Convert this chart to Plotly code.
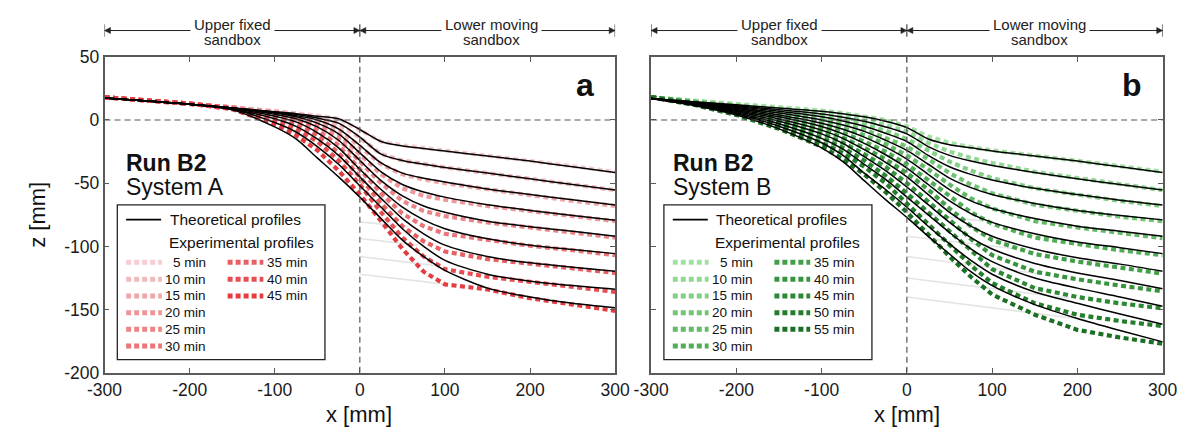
import plotly.graph_objects as go

# ---------------- data ----------------
X_GRID = [-300, -250, -200, -150, -100, -75, -50, -25, 0, 25, 50, 75, 100, 150, 200, 250, 300]

A_TIMES = [5, 10, 15, 20, 25, 30, 35, 40, 45]
A_THEO = [
    [17.5, 15, 12.5, 9.5, 6.5, 5, 3, 1, -7.5, -17, -20.5, -22.5, -24.5, -28.5, -32.5, -37, -41.5],
    [17.5, 15, 12.5, 9.5, 6.3, 4.5, 1.5, -2.5, -13.5, -27, -32, -35, -37.5, -42, -46.5, -51, -55.4],
    [17.5, 15, 12.5, 9.5, 6, 3.5, 0, -7, -20, -34, -42, -46, -49, -54.5, -59, -63, -67.2],
    [17.5, 15, 12.5, 9.5, 5.5, 2.5, -2.5, -11, -26, -41, -51, -57, -61, -67, -71.5, -75.5, -79.3],
    [17.5, 15, 12.5, 9.5, 4.5, 1, -5.5, -16, -32, -48, -60, -68, -73, -80, -84.5, -88, -91.9],
    [17.5, 15, 12.5, 9, 3, -1.5, -10, -22, -39, -55, -69, -79, -86, -94, -99, -102.5, -105.7],
    [17.5, 15, 12.5, 8.5, 1, -5, -15, -28, -45, -62, -78, -90, -99, -108, -113, -116.5, -119.6],
    [17.5, 15, 12.5, 8.5, -2, -9.5, -21, -35, -52, -69, -86, -100, -111, -122, -127.5, -131, -133.9],
    [17.5, 15, 12.5, 8, -5.5, -15, -30, -45, -61, -78, -95, -108, -119, -133, -140, -145, -148.6],
]
A_EXP = [
    [18, 15.5, 13, 10, 7, 5.5, 3.5, 1, -8, -17, -20, -22, -24, -28, -32, -36.5, -41],
    [18, 15.5, 13, 10, 7, 5, 2, -3, -14, -27, -32, -35, -37.5, -42, -46.5, -51, -55.5],
    [18, 15.5, 13, 10, 6.5, 4, 0.5, -7, -21, -35, -43, -47, -50, -55, -59.5, -64, -68],
    [18, 15.5, 13, 10, 6, 3, -2, -11, -27, -43, -54, -60, -63, -68, -72, -76, -80],
    [18, 15.5, 13, 10, 5, 2, -4, -15, -33, -50, -64, -72, -76, -81, -85, -89, -93],
    [18, 15.5, 13, 9.5, 4, 0, -8, -20, -39, -58, -74, -84, -90, -95, -99.5, -103, -107],
    [18, 15.5, 13, 9, 2, -3, -12, -26, -45, -66, -84, -96, -104, -110, -113.5, -117, -121],
    [18, 15.5, 13, 9, 0, -7, -17, -32, -51, -73, -93, -108, -118, -124, -128, -132, -136],
    [18, 15.5, 13, 8.5, -3, -12, -24, -40, -59, -80, -102, -120, -130, -134, -141, -146, -151],
]
A_COLORS = ["#f6cdd0", "#f3b9bc", "#f0a7aa", "#ee9699", "#ec8588", "#ea7477",
            "#e86064", "#e64e52", "#e43c41"]

B_TIMES = [5, 10, 15, 20, 25, 30, 35, 40, 45, 50, 55]
B_THEO = [
    [17, 14.5, 12, 9.5, 7, 5, 2.5, -1, -6, -15, -19.5, -22, -24.5, -28.5, -32.5, -37, -41.5],
    [17, 14.2, 11.3, 8.2, 4.8, 2.2, -1, -5.5, -11, -21, -28, -32.5, -36, -41.5, -46.5, -51, -55.4],
    [17, 14, 10.6, 6.9, 2.5, -0.8, -5, -10.5, -17, -28, -37, -43, -47.5, -54, -59, -63.5, -67.2],
    [17, 13.7, 9.9, 5.5, 0, -4, -9, -16, -24, -35, -46, -53.5, -59, -66, -71.5, -75.5, -79],
    [17, 13.4, 9.1, 4, -2.5, -7.3, -13.5, -21.5, -31, -43, -55, -64, -70, -78, -84, -88, -92],
    [17, 13.1, 8.3, 2.5, -5.2, -11, -18.5, -27.5, -38, -51, -64, -74, -81, -90, -96.5, -101, -105.7],
    [17, 12.8, 7.5, 0.8, -8, -14.5, -23.5, -33.5, -45, -59, -73, -84, -92, -102, -109, -114, -119.6],
    [17, 12.5, 6.7, -1, -11, -18.5, -29, -40, -53, -67, -81, -93, -102, -113.5, -121, -127, -133.5],
    [17, 12.2, 5.8, -2.9, -14.5, -23, -35, -47, -61, -75, -89, -102, -112, -125, -133, -140, -147.3],
    [17, 11.8, 4.9, -4.9, -18, -28, -42, -55, -69, -84, -98, -111, -122, -136, -145, -153.5, -161.5],
    [17, 11.5, 4, -7, -22, -33, -48, -63, -77, -92, -106, -120, -131, -146, -157, -166.5, -175.5],
]
B_EXP = [
    [18, 15.5, 13, 10, 7.5, 5.5, 3, 0, -5, -13, -18, -21.5, -24, -28, -32, -36.5, -41],
    [18, 15, 12, 9, 5.5, 3, 0, -4, -9, -18, -25, -30, -34, -41, -46, -51, -55.5],
    [18, 15, 11.5, 7.5, 3, 0, -3.5, -8.5, -15, -24, -33, -40, -46, -54, -59, -64, -68],
    [18, 14.5, 10.5, 6, 0.5, -3, -7.5, -14, -21, -31, -42, -51, -58, -67, -72, -76.5, -80],
    [18, 14.5, 10, 4.5, -2, -6.5, -12, -19, -28, -39, -51, -62, -70, -80, -85, -89.5, -93.5],
    [18, 14, 9, 3, -4.5, -10, -17, -25, -35, -47, -60, -73, -82, -93, -98, -103, -107],
    [18, 13.5, 8, 1, -7.5, -14, -22, -31, -42, -55, -70, -84, -95, -106, -112, -117, -121.5],
    [18, 13.5, 7, -1, -10.5, -18, -27, -37, -50, -64, -79, -94, -107, -120, -126, -131, -135.5],
    [18, 13, 6, -3, -14, -22, -32, -44, -58, -73, -89, -104, -118, -133, -140, -145, -149],
    [18, 12.5, 5, -5, -18, -26, -37, -50, -66, -82, -99, -115, -129, -145, -154, -159, -163],
    [18, 12, 4, -7, -21, -31, -43, -57, -73, -91, -108, -124, -138, -154, -166, -172, -177],
]
B_COLORS = ["#a3e0a3", "#93d894", "#83cf85", "#72c475", "#62b966", "#52ad57",
            "#43a049", "#37943e", "#2c8834", "#237d2b", "#1b7023"]

# faint reference lines in the lower moving sandbox
A_FAINT_X = [[0, 56], [0, 68], [0, 87], [0, 102]]
A_FAINT_Z = [[-80.6, -84.4], [-93.7, -99], [-108, -115], [-122, -130]]
B_FAINT_X = [[0, 90], [0, 130], [0, 160], [0, 190], [0, 210]]
B_FAINT_Z = [[-73, -80], [-92, -102], [-108, -122], [-125, -141], [-140, -158]]

X_TICKS = [-300, -200, -100, 0, 100, 200, 300]
Y_TICKS = [-200, -150, -100, -50, 0, 50]

# ---------------- figure ----------------
W, H = 1201, 443
FONT = "Liberation Sans, Arial, sans-serif"
NARROW = "Liberation Sans Narrow, Arial Narrow, Liberation Sans, sans-serif"
AX_COL = "#5a5a5a"

fig = go.Figure()


def add_panel(xa, ya, theo, exp, colors, fx, fz):
    for xs, zs in zip(fx, fz):
        fig.add_trace(go.Scatter(x=xs, y=zs, mode="lines", xaxis=xa, yaxis=ya,
                                 line=dict(color="#e4e4e4", width=1.6),
                                 showlegend=False, hoverinfo="skip"))
    for zs, c in zip(exp, colors):
        fig.add_trace(go.Scatter(x=X_GRID, y=zs, mode="lines", xaxis=xa, yaxis=ya,
                                 line=dict(color=c, width=4.2, dash="5px,3.5px"),
                                 showlegend=False))
    for zs in theo:
        fig.add_trace(go.Scatter(x=X_GRID, y=zs, mode="lines", xaxis=xa, yaxis=ya,
                                 line=dict(color="black", width=1.5, shape="spline",
                                           smoothing=0.8),
                                 showlegend=False))


add_panel("x", "y", A_THEO, A_EXP, A_COLORS, A_FAINT_X, A_FAINT_Z)
add_panel("x2", "y2", B_THEO, B_EXP, B_COLORS, B_FAINT_X, B_FAINT_Z)

shapes = []
annotations = []


def decorate(xr, yr, times, colors, system, letter):
    # dashed reference lines
    shapes.append(dict(type="line", xref=xr, yref=yr, x0=-300, x1=300, y0=0, y1=0,
                       line=dict(color="#555", width=1.2, dash="6px,4px")))
    shapes.append(dict(type="line", xref=xr, yref=yr, x0=0, x1=0, y0=-200, y1=50,
                       line=dict(color="#555", width=1.2, dash="6px,4px")))
    # header arrows
    yc, hb, ha, dx = 1 - 21.5 / H, 6.5 / H, 3.2 / H, 7.0
    shapes.append(dict(type="line", xref=xr, yref="paper", x0=-300, x1=300, y0=yc, y1=yc,
                       line=dict(color="#222", width=1)))
    for xb in (-300, 0, 300):
        shapes.append(dict(type="line", xref=xr, yref="paper", x0=xb, x1=xb,
                           y0=yc - hb, y1=yc + hb, line=dict(color="#222", width=1)))
    for tip, d in ((-300, 1), (0, -1), (0, 1), (300, -1)):
        shapes.append(dict(type="path", xref=xr, yref="paper",
                           path=f"M {tip},{yc} L {tip + d * dx},{yc + ha} L {tip + d * dx},{yc - ha} Z",
                           fillcolor="#222", line=dict(color="#222", width=0.5)))
    for xc, l1 in ((-150, "Upper fixed"), (155, "Lower moving")):
        annotations.append(dict(xref=xr, yref="paper", x=xc, y=1 - 15 / H, text=l1,
                                showarrow=False, font=dict(size=15, color="#222", family=FONT),
                                bgcolor="white", borderpad=3, yanchor="middle"))
        annotations.append(dict(xref=xr, yref="paper", x=xc, y=1 - 31 / H, text="sandbox",
                                showarrow=False, font=dict(size=15, color="#222", family=FONT),
                                yanchor="middle"))
    # run text
    annotations.append(dict(xref=xr, yref=yr, x=-277, y=-34, text="<b>Run B2</b>",
                            showarrow=False, xanchor="left", yanchor="middle",
                            font=dict(size=23, color="#111", family=FONT)))
    annotations.append(dict(xref=xr, yref=yr, x=-277, y=-53, text=system,
                            showarrow=False, xanchor="left", yanchor="middle",
                            font=dict(size=23, color="#111", family=FONT)))
    annotations.append(dict(xref=xr, yref=yr, x=278, y=27.5, text=f"<b>{letter}</b>",
                            showarrow=False, xanchor="right", yanchor="middle",
                            font=dict(size=32, color="#111", family=FONT)))
    # legend box
    shapes.append(dict(type="rect", xref=xr, yref=yr, x0=-285, x1=-41, y0=-189.6, y1=-67.2,
                       line=dict(color="#222", width=1.3), fillcolor="white", layer="above"))
    shapes.append(dict(type="line", xref=xr, yref=yr, x0=-274.6, x1=-233.5, y0=-78.8, y1=-78.8,
                       line=dict(color="black", width=1.6), layer="above"))
    annotations.append(dict(xref=xr, yref=yr, x=-226, y=-78.8, text="Theoretical profiles",
                            showarrow=False, xanchor="left", yanchor="middle",
                            font=dict(size=15.5, color="#111", family=FONT)))
    annotations.append(dict(xref=xr, yref=yr, x=-227, y=-97, text="Experimental profiles",
                            showarrow=False, xanchor="left", yanchor="middle",
                            font=dict(size=15.5, color="#111", family=FONT)))
    row_z = [-112.5, -125.9, -139.2, -152.4, -165.6, -178.8]
    for i, (t, c) in enumerate(zip(times, colors)):
        col, row = divmod(i, 6)
        x0 = -274.6 if col == 0 else -155.4
        xl = -178.3 if col == 0 else -59.1
        z = row_z[row]
        shapes.append(dict(type="line", xref=xr, yref=yr, x0=x0, x1=x0 + 42, y0=z, y1=z,
                           line=dict(color=c, width=5, dash="5px,3px"), layer="above"))
        annotations.append(dict(xref=xr, yref=yr, x=xl, y=z, text=f"{t} min",
                                showarrow=False, xanchor="right", yanchor="middle",
                                font=dict(size=13.5, color="#111", family=NARROW)))


decorate("x", "y", A_TIMES, A_COLORS, "System A", "a")
decorate("x2", "y2", B_TIMES, B_COLORS, "System B", "b")

# axis titles
annotations.append(dict(xref="paper", yref="paper", x=20 / W, y=1 - 214 / H, text="z [mm]",
                        textangle=-90, showarrow=False, xanchor="center", yanchor="middle",
                        font=dict(size=22, color="#111", family=FONT)))
for xc in (351, 914):
    annotations.append(dict(xref="paper", yref="paper", x=xc / W, y=1 - 424 / H, text="x [mm]",
                            showarrow=False, xanchor="center", yanchor="middle",
                            font=dict(size=22, color="#111", family=FONT)))

ydom = [1 - 380 / H, 1 - 49 / H]
axis_common = dict(showline=True, mirror="ticks", ticks="inside", ticklen=5, tickwidth=1,
                   tickcolor=AX_COL, linecolor=AX_COL, linewidth=1.5, showgrid=False,
                   zeroline=False, tickfont=dict(size=17.5, color="#1a1a1a", family=FONT))

xt = dict(tickmode="array", tickvals=X_TICKS, ticktext=[str(v) for v in X_TICKS],
          range=[-300, 300])
yt = dict(tickmode="array", tickvals=Y_TICKS, ticktext=[str(v) for v in Y_TICKS],
          range=[-200, 50])

fig.update_layout(
    width=W, height=H, margin=dict(l=0, r=0, t=0, b=0),
    paper_bgcolor="white", plot_bgcolor="white",
    font=dict(family=FONT, color="#111"),
    showlegend=False,
    xaxis=dict(domain=[89 / W, 614 / W], anchor="y", **xt, **axis_common),
    yaxis=dict(domain=ydom, anchor="x", **yt, **axis_common),
    xaxis2=dict(domain=[651 / W, 1177 / W], anchor="y2", **xt, **axis_common),
    yaxis2=dict(domain=ydom, anchor="x2", showticklabels=False, **yt, **axis_common),
    shapes=shapes, annotations=annotations,
)

fig.write_html("out.html")
